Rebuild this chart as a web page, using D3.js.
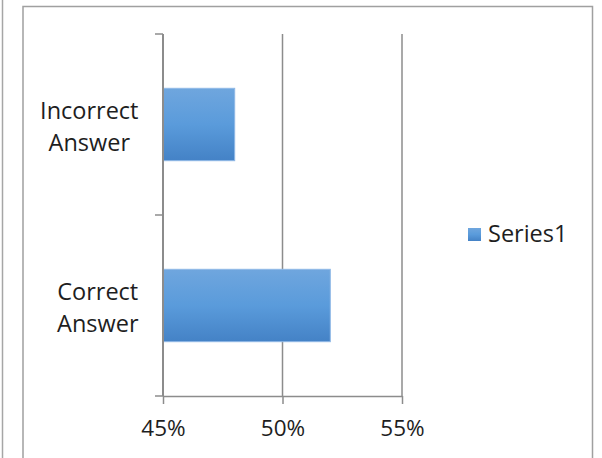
<!DOCTYPE html>
<html>
<head>
<meta charset="utf-8">
<script src="https://cdn.jsdelivr.net/npm/d3@7"></script>
<style>
  html, body { margin: 0; padding: 0; background: #fff; }
  svg { display: block; }
  text { font-family: "Open Sans", "Noto Sans", sans-serif; fill: #1e1e1e; }
</style>
</head>
<body>
<svg id="chart" width="602" height="458"></svg>
<script>
// Chart data
const categories = ["Incorrect Answer", "Correct Answer"];
const values = [0.48, 0.52];
const xTicks = [0.45, 0.50, 0.55];
const seriesName = "Series1";

const svg = d3.select("#chart");

// Frame lines
svg.append("line").attr("x1", 2.5).attr("x2", 2.5).attr("y1", 0).attr("y2", 458)
  .attr("stroke", "#a6a6a6").attr("stroke-width", 1.5);
svg.append("path")
  .attr("d", "M23,458 V6.5 H592.5 V458")
  .attr("fill", "none").attr("stroke", "#a0a0a0").attr("stroke-width", 1.5);

// Scales
const x = d3.scaleLinear().domain([0.45, 0.55]).range([163, 402]);
const y = d3.scaleBand().domain(categories).range([34, 396])
  .paddingInner(0.6).paddingOuter(0.3);

// Gradient for bars and legend swatch
const defs = svg.append("defs");
const grad = defs.append("linearGradient").attr("id", "barGrad")
  .attr("x1", 0).attr("y1", 0).attr("x2", 0).attr("y2", 1);
grad.append("stop").attr("offset", "0%").attr("stop-color", "#6fa6de");
grad.append("stop").attr("offset", "50%").attr("stop-color", "#5a9bdb");
grad.append("stop").attr("offset", "100%").attr("stop-color", "#4482c6");

// Vertical gridlines
svg.append("g").selectAll("line")
  .data(xTicks.slice(1))
  .join("line")
  .attr("x1", d => x(d)).attr("x2", d => x(d))
  .attr("y1", 34).attr("y2", 396)
  .attr("stroke", "#8c8c8c").attr("stroke-width", 1.5);

// Bars
svg.append("g").selectAll("rect")
  .data(categories)
  .join("rect")
  .attr("x", x(0.45))
  .attr("y", d => y(d))
  .attr("width", (d, i) => x(values[i]) - x(0.45))
  .attr("height", y.bandwidth())
  .attr("fill", "url(#barGrad)")
  .attr("stroke", "#8fb8e6").attr("stroke-width", 1);

// X axis
const xAxis = d3.axisBottom(x).tickValues(xTicks).tickFormat(d3.format(".0%"))
  .tickSize(8).tickSizeOuter(0).tickPadding(16);
const gx = svg.append("g").attr("transform", "translate(0,396)").call(xAxis);
gx.select(".domain").attr("stroke", "#8c8c8c").attr("stroke-width", 1.5);
gx.selectAll(".tick line").attr("stroke", "#8c8c8c").attr("stroke-width", 1.5);
gx.selectAll(".tick text").attr("font-size", "22.5px").attr("fill", "#1e1e1e")
  .attr("font-family", "'Open Sans', sans-serif");

// Y axis line with category boundary ticks
const step = y.step();
const boundaries = [y.range()[0]].concat(categories.map(c => y(c) + y.bandwidth() + step * y.paddingInner() / 2));
boundaries[boundaries.length - 1] = y.range()[1];
svg.append("line").attr("x1", x(0.45)).attr("x2", x(0.45))
  .attr("y1", y.range()[0]).attr("y2", y.range()[1])
  .attr("stroke", "#8c8c8c").attr("stroke-width", 2);
svg.append("g").selectAll("line")
  .data(boundaries)
  .join("line")
  .attr("x1", x(0.45) - 8).attr("x2", x(0.45))
  .attr("y1", d => d).attr("y2", d => d)
  .attr("stroke", "#8c8c8c").attr("stroke-width", 1.5);

// Category labels: two-line block, right edge near the axis, lines centred in the block
const labelRight = 138.5;
categories.forEach(c => {
  const words = c.split(" ");
  const cy = y(c) + y.bandwidth() / 2;
  const g = svg.append("g");
  const texts = words.map((w, i) => g.append("text")
    .attr("font-size", "23.5px")
    .attr("y", cy - 6 + i * 32)
    .text(w));
  const widths = texts.map(t => t.node().getComputedTextLength());
  const blockW = d3.max(widths);
  const center = labelRight - blockW / 2;
  texts.forEach(t => t.attr("x", center).attr("text-anchor", "middle"));
});

// Legend
const legend = svg.append("g");
legend.append("rect").attr("x", 468).attr("y", 228).attr("width", 13).attr("height", 13)
  .attr("fill", "url(#barGrad)");
legend.append("text").attr("x", 488).attr("y", 242).attr("font-size", "23.5px").text(seriesName);
</script>
</body>
</html>
